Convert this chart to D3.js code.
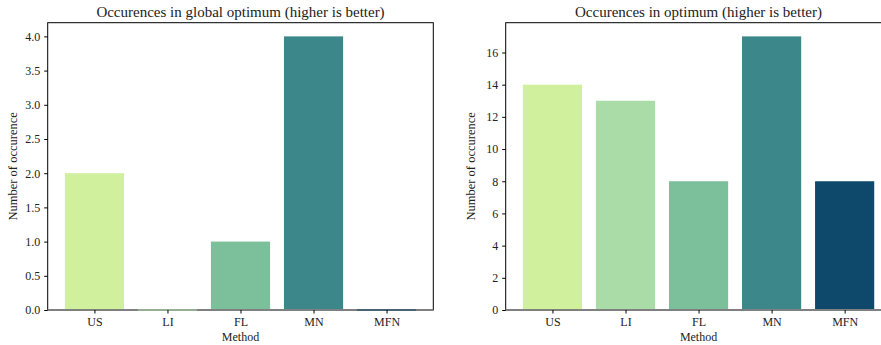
<!DOCTYPE html>
<html>
<head>
<meta charset="utf-8">
<script src="https://cdn.jsdelivr.net/npm/d3@7"></script>
<style>
  html, body { margin: 0; padding: 0; background: #fff; }
  svg { display: block; }
  text { font-family: "Liberation Serif", "DejaVu Serif", serif; fill: #222; }
</style>
</head>
<body>
<svg id="chart" width="881" height="345"></svg>
<script>
// Methods compared
const methods = ["US", "LI", "FL", "MN", "MFN"];
// Bar fill per method
const methodColors = ["#d1f09e", "#aadca8", "#7bbf9b", "#3b8789", "#0e486b"];
// Occurrences in the global optimum
const globalCounts = [2, 0, 1, 4, 0];
// Occurrences in an optimum
const optimumCounts = [14, 13, 8, 17, 8];
// Y tick values
const globalTicks = [0, 0.5, 1, 1.5, 2, 2.5, 3, 3.5, 4];
const optimumTicks = [0, 2, 4, 6, 8, 10, 12, 14, 16];

const svg = d3.select("#chart");

function panel(cfg) {
  const { left, right, top, bottom, values, ticks, fmt, title, yMax } = cfg;
  const g = svg.append("g");

  const x = d3.scaleLinear().domain([-0.64, methods.length - 1 + 0.64]).range([left, right]);
  const y = d3.scaleLinear().domain([0, yMax]).range([bottom, top]);
  const barW = 0.81;

  // bars
  g.selectAll("rect.bar").data(values).join("rect")
    .attr("class", "bar")
    .attr("x", (d, i) => x(i - barW / 2))
    .attr("width", (d, i) => x(i + barW / 2) - x(i - barW / 2))
    .attr("y", d => y(d))
    .attr("height", d => y(0) - y(d))
    .attr("fill", (d, i) => methodColors[i]);

  // frame
  g.append("rect")
    .attr("x", left).attr("y", top)
    .attr("width", right - left).attr("height", bottom - top)
    .attr("fill", "none").attr("stroke", "#000").attr("stroke-width", 1);

  // zero reference line
  g.append("line")
    .attr("x1", left).attr("x2", right)
    .attr("y1", y(0)).attr("y2", y(0))
    .attr("stroke", "#808080").attr("stroke-width", 2);

  // zero-height bars show as a thin line on the baseline
  g.selectAll("line.zero").data(values.map((v, i) => ({ v, i })).filter(d => d.v === 0)).join("line")
    .attr("class", "zero")
    .attr("x1", d => x(d.i - barW / 2)).attr("x2", d => x(d.i + barW / 2))
    .attr("y1", y(0)).attr("y2", y(0))
    .attr("stroke", d => methodColors[d.i]).attr("stroke-width", 1);

  // y axis
  const yAxis = d3.axisLeft(y).tickValues(ticks).tickFormat(fmt).tickSize(3.5).tickPadding(4);
  const ya = g.append("g").attr("transform", `translate(${left},0)`).call(yAxis);
  ya.select(".domain").remove();
  ya.selectAll("text").style("font-size", "12px").attr("fill", "#222");

  // x axis
  const xAxis = d3.axisBottom(x).tickValues(d3.range(methods.length)).tickFormat(i => methods[i]).tickSize(3.5).tickPadding(4);
  const xa = g.append("g").attr("transform", `translate(0,${bottom})`).call(xAxis);
  xa.select(".domain").remove();
  xa.selectAll("text").style("font-size", "12px").attr("fill", "#222");

  // labels
  g.append("text")
    .attr("x", cfg.titleX)
    .attr("y", 17)
    .attr("text-anchor", "middle")
    .style("font-size", "15px")
    .text(title);

  g.append("text")
    .attr("x", (left + right) / 2)
    .attr("y", 341)
    .attr("text-anchor", "middle")
    .style("font-size", "12px")
    .text("Method");

  g.append("text")
    .attr("transform", `translate(${left - 31},${(top + bottom) / 2}) rotate(-90)`)
    .attr("text-anchor", "middle")
    .style("font-size", "12.5px")
    .text("Number of occurence");
}

panel({
  left: 47.7, right: 433.3, top: 22.7, bottom: 310, titleX: 240.5,
  values: globalCounts, ticks: globalTicks, fmt: d3.format(".1f"),
  title: "Occurences in global optimum (higher is better)", yMax: 4.2
});

panel({
  left: 505.7, right: 891.4, top: 22.7, bottom: 310, titleX: 698.5,
  values: optimumCounts, ticks: optimumTicks, fmt: d3.format("d"),
  title: "Occurences in optimum (higher is better)", yMax: 17.85
});
</script>
</body>
</html>
